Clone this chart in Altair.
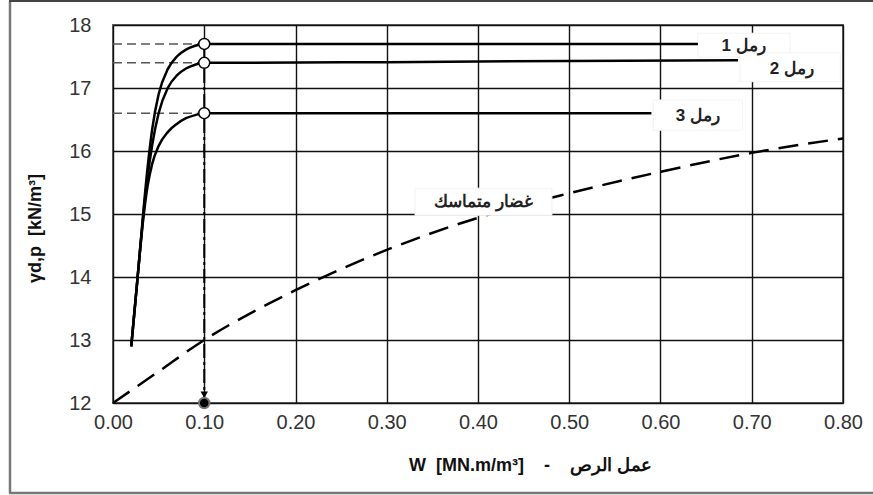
import altair as alt
import pandas as pd

# ---- data ----
sand1_x = [0.02, 0.027, 0.033, 0.038, 0.043, 0.05, 0.06, 0.07, 0.08, 0.09, 0.1, 0.3, 0.5, 0.641]
sand1_y = [12.9, 14.0, 15.0, 15.75, 16.35, 16.9, 17.3, 17.5, 17.61, 17.67, 17.7, 17.7, 17.7, 17.7]
sand2_x = [0.02, 0.027, 0.033, 0.038, 0.043, 0.05, 0.06, 0.07, 0.08, 0.09, 0.1, 0.3, 0.5, 0.685]
sand2_y = [12.9, 14.0, 14.95, 15.6, 16.1, 16.6, 17.0, 17.2, 17.31, 17.37, 17.4, 17.41, 17.43, 17.44]
sand3_x = [0.02, 0.027, 0.033, 0.038, 0.043, 0.05, 0.06, 0.07, 0.08, 0.09, 0.1, 0.3, 0.59]
sand3_y = [12.9, 14.0, 14.9, 15.45, 15.8, 16.08, 16.3, 16.43, 16.52, 16.57, 16.6, 16.6, 16.6]
clay_x = [0.0, 0.05, 0.1, 0.15, 0.2, 0.3, 0.4, 0.5, 0.6, 0.7, 0.8]
clay_y = [12.0, 12.5, 13.0, 13.42, 13.79, 14.43, 14.94, 15.33, 15.67, 15.97, 16.2]

marker_x = 0.1
marker_levels = [17.7, 17.4, 16.6]

label_text = ["رمل 1", "رمل 2", "رمل 3", "غضار متماسك"]
label_x = [0.691, 0.744, 0.641, 0.406]
label_y = [17.66, 17.3, 16.56, 15.19]
box_x1 = [0.641, 0.687, 0.592, 0.331]
box_x2 = [0.742, 0.797, 0.69, 0.481]
box_y1 = [17.49, 17.1, 16.33, 14.98]
box_y2 = [17.87, 17.56, 16.81, 15.41]

x_ticks = [0.0, 0.1, 0.2, 0.3, 0.4, 0.5, 0.6, 0.7, 0.8]
y_ticks = [12, 13, 14, 15, 16, 17, 18]

NB = "\u00a0"
x_title = "W" + NB * 2 + "[MN.m/m³]" + NB * 4 + "-" + NB * 4 + "عمل الرص"
y_title = "γd,p" + NB * 2 + "[kN/m³]"

# ---- tables ----
rows = []
for name, xs_, ys_ in [("1", sand1_x, sand1_y), ("2", sand2_x, sand2_y), ("3", sand3_x, sand3_y)]:
    for a, b in zip(xs_, ys_):
        rows.append({"series": name, "x": a, "y": b})
sand_df = pd.DataFrame(rows)
clay_df = pd.DataFrame({"x": clay_x, "y": clay_y})
marks_df = pd.DataFrame({"x": [marker_x] * 3, "y": marker_levels, "x0": [0.0] * 3})
vert_df = pd.DataFrame({"x": [marker_x], "y": [max(marker_levels)], "y2": [12.0]})
bottom_df = pd.DataFrame({"x": [marker_x], "y": [12.0], "ya": [12.13]})
lab_df = pd.DataFrame({"t": label_text, "x": label_x, "y": label_y,
                       "bx1": box_x1, "bx2": box_x2, "by1": box_y1, "by2": box_y2})
one = pd.DataFrame({"k": [0]})

W, H = 730, 378
xs = alt.Scale(domain=[0, 0.8], nice=False)
ys = alt.Scale(domain=[12, 18], nice=False)

X = alt.X("x:Q", scale=xs, axis=alt.Axis(
    values=x_ticks, format=".2f", title=x_title,
    titleX=417, titleY=62, titleAlign="center", titleBaseline="middle",
    titleFontSize=18, titleFontWeight="bold", labelPadding=9, labelFlush=False))
Y = alt.Y("y:Q", scale=ys, axis=alt.Axis(
    values=y_ticks, format="d", title=y_title, labelPadding=22, labelFlush=False,
    titleX=-78, titleY=203, titleAlign="center", titleBaseline="middle",
    titleFontSize=18, titleFontWeight="bold"))

# outer frame of the figure (left, top, bottom edges; right edge lies outside the picture)
frame_left = alt.Chart(one).mark_rule(color="#777777", strokeWidth=2.5).encode(
    x=alt.value(-103), y=alt.value(-24), y2=alt.value(468))
frame_top = alt.Chart(one).mark_rule(color="#444444", strokeWidth=2).encode(
    x=alt.value(-104), x2=alt.value(800), y=alt.value(-24))
frame_bottom = alt.Chart(one).mark_rule(color="#777777", strokeWidth=2.5).encode(
    x=alt.value(-104), x2=alt.value(800), y=alt.value(468))

clay = alt.Chart(clay_df).mark_line(color="black", strokeWidth=2.5, strokeDash=[20, 10],
                                    interpolate="monotone").encode(x=X, y=Y)

boxes = alt.Chart(lab_df).mark_rect(fill="white", stroke="#f2f2f2", strokeWidth=1).encode(
    x=alt.X("bx1:Q", scale=xs), x2="bx2:Q",
    y=alt.Y("by1:Q", scale=ys), y2="by2:Q")

hdash = alt.Chart(marks_df).mark_rule(color="#555555", strokeWidth=1.5, strokeDash=[9, 5]).encode(
    x=alt.X("x0:Q", scale=xs), x2="x:Q", y=alt.Y("y:Q", scale=ys))

vline = alt.Chart(vert_df).mark_rule(color="black", strokeWidth=2, strokeDash=[14, 4, 3, 4]).encode(
    x=alt.X("x:Q", scale=xs), y=alt.Y("y:Q", scale=ys), y2="y2:Q")

sand = alt.Chart(sand_df).mark_line(color="black", strokeWidth=2.5, interpolate="monotone").encode(
    x=X, y=Y, detail="series:N")

circles = alt.Chart(marks_df).mark_point(shape="circle", filled=True, fill="white", stroke="black",
                                         strokeWidth=1.5, size=120, opacity=1).encode(
    x=alt.X("x:Q", scale=xs), y=alt.Y("y:Q", scale=ys))

arrow = alt.Chart(bottom_df).mark_point(shape="triangle-down", filled=True, color="black",
                                        size=55, opacity=1).encode(
    x=alt.X("x:Q", scale=xs), y=alt.Y("ya:Q", scale=ys))

dot = alt.Chart(bottom_df).mark_point(shape="circle", filled=True, fill="black", stroke="#777777",
                                      strokeWidth=2, size=110, opacity=1).encode(
    x=alt.X("x:Q", scale=xs), y=alt.Y("y:Q", scale=ys))

texts = alt.Chart(lab_df).mark_text(fontSize=17, fontWeight="bold", color="#222222",
                                    font="Liberation Sans").encode(
    x=alt.X("x:Q", scale=xs), y=alt.Y("y:Q", scale=ys), text="t:N")

chart = alt.layer(frame_left, frame_top, frame_bottom, clay, boxes, hdash, vline, sand,
                  circles, arrow, dot, texts).properties(
    width=W, height=H,
    autosize=alt.AutoSizeParams(type="none"),
    padding={"left": 113, "top": 25, "right": 30, "bottom": 92},
    background="white",
).configure_view(stroke="#666666", strokeWidth=2).configure_axis(
    grid=True, gridColor="#111111", gridWidth=1.4, domain=False, ticks=False,
    labelFont="Liberation Sans", labelFontSize=20, labelColor="#333333",
    titleFont="Liberation Sans", titleColor="#111111",
)

chart.save("out.html", embed_options={"renderer": "svg", "actions": False})
